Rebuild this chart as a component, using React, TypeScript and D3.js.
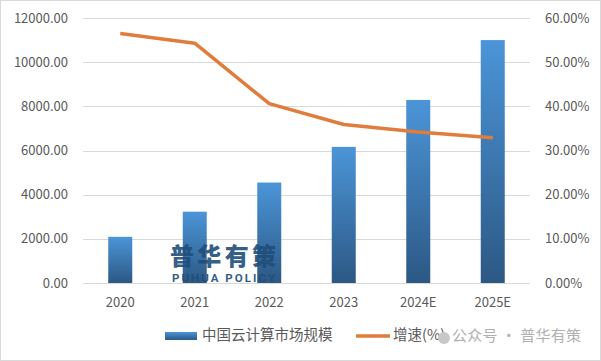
import React, { useEffect, useRef } from 'react'
import * as d3 from 'd3'

// chart data
const years = ['2020', '2021', '2022', '2023', '2024E', '2025E']
const marketSize = [2091, 3229, 4550, 6165, 8290, 11000]
const growthRate = [0.565, 0.543, 0.406, 0.359, 0.342, 0.329]
const leftTicks = [0, 2000, 4000, 6000, 8000, 10000, 12000]
const rightTicks = [0, 0.1, 0.2, 0.3, 0.4, 0.5, 0.6]
const barLabel = '中国云计算市场规模'
const lineLabel = '增速(%)'

const App = () => {
    const svgRef = useRef<SVGSVGElement>(null)

    useEffect(() => {
        const w = 601
        const h = 361
        const left = 83, right = 530, top = 18, bottom = 283
        const font = '"Noto Sans CJK SC", "Noto Sans", sans-serif'

        const svg = d3.select(svgRef.current)
            .attr('width', w)
            .attr('height', h)
            .style('background', '#fff')
        svg.selectAll('*').remove()

        // outer frame
        svg.append('rect')
            .attr('x', 0.5).attr('y', 0.5)
            .attr('width', w - 1).attr('height', h - 1)
            .attr('fill', 'none').attr('stroke', '#d9d9d9')

        const x = d3.scaleBand().domain(years).range([left, right])
        const yLeft = d3.scaleLinear().domain([0, 12000]).range([bottom, top])
        const yRight = d3.scaleLinear().domain([0, 0.6]).range([bottom, top])

        // gradient for the bars
        const grad = svg.append('defs').append('linearGradient')
            .attr('id', 'barGrad')
            .attr('x1', 0).attr('y1', 0).attr('x2', 0).attr('y2', 1)
        grad.append('stop').attr('offset', '0%').attr('stop-color', '#4b95d8')
        grad.append('stop').attr('offset', '100%').attr('stop-color', '#2c5884')

        // gridlines
        svg.append('g')
            .selectAll('line')
            .data(leftTicks)
            .join('line')
            .attr('x1', left).attr('x2', right)
            .attr('y1', d => Math.round(yLeft(d)) + 0.5)
            .attr('y2', d => Math.round(yLeft(d)) + 0.5)
            .attr('stroke', '#d9d9d9')

        // left axis labels
        svg.append('g')
            .selectAll('text')
            .data(leftTicks)
            .join('text')
            .attr('x', 68)
            .attr('y', d => yLeft(d))
            .attr('dy', '0.35em')
            .attr('text-anchor', 'end')
            .attr('font-family', font)
            .attr('font-size', 13)
            .attr('fill', '#595959')
            .text(d => d3.format('.2f')(d))

        // right axis labels
        svg.append('g')
            .selectAll('text')
            .data(rightTicks)
            .join('text')
            .attr('x', 545)
            .attr('y', d => yRight(d))
            .attr('dy', '0.35em')
            .attr('font-family', font)
            .attr('font-size', 13)
            .attr('fill', '#595959')
            .text(d => d3.format('.2%')(d))

        // x labels
        svg.append('g')
            .selectAll('text')
            .data(years)
            .join('text')
            .attr('x', d => x(d)! + x.bandwidth() / 2)
            .attr('y', 302)
            .attr('dy', '0.35em')
            .attr('text-anchor', 'middle')
            .attr('font-family', font)
            .attr('font-size', 13)
            .attr('fill', '#595959')
            .text(d => d)

        // bars
        const bw = 24
        svg.append('g')
            .selectAll('rect')
            .data(marketSize)
            .join('rect')
            .attr('x', (d, i) => x(years[i])! + x.bandwidth() / 2 - bw / 2)
            .attr('y', d => yLeft(d))
            .attr('width', bw)
            .attr('height', d => bottom - yLeft(d))
            .attr('fill', 'url(#barGrad)')

        // logo watermark
        svg.append('text')
            .attr('x', 170).attr('y', 265)
            .attr('font-family', font)
            .attr('font-size', 24)
            .attr('font-weight', 900)
            .attr('fill', '#1f4e79')
            .attr('opacity', 0.9)
            .attr('textLength', 106)
            .text('普华有策')
        svg.append('text')
            .attr('x', 172).attr('y', 282)
            .attr('font-family', 'Roboto, sans-serif')
            .attr('font-size', 11.5)
            .attr('font-weight', 700)
            .attr('fill', '#1f4e79')
            .attr('opacity', 0.9)
            .attr('textLength', 103)
            .text('PUHUA POLICY')

        // growth line
        const line = d3.line<number>()
            .x((d, i) => x(years[i])! + x.bandwidth() / 2)
            .y(d => yRight(d))
            .curve(d3.curveLinear)
        svg.append('path')
            .datum(growthRate)
            .attr('d', line)
            .attr('fill', 'none')
            .attr('stroke', '#e07d3c')
            .attr('stroke-width', 3.5)
            .attr('stroke-linejoin', 'round')

        // legend
        svg.append('rect')
            .attr('x', 165).attr('y', 332)
            .attr('width', 32).attr('height', 8)
            .attr('fill', 'url(#barGrad)')
        svg.append('text')
            .attr('x', 202).attr('y', 335)
            .attr('dy', '0.35em')
            .attr('font-family', font)
            .attr('font-size', 14.5)
            .attr('fill', '#595959')
            .text(barLabel)
        svg.append('line')
            .attr('x1', 356).attr('x2', 390)
            .attr('y1', 336).attr('y2', 336)
            .attr('stroke', '#e07d3c')
            .attr('stroke-width', 3.5)
        svg.append('text')
            .attr('x', 393).attr('y', 335)
            .attr('dy', '0.35em')
            .attr('font-family', font)
            .attr('font-size', 14.5)
            .attr('fill', '#595959')
            .text(lineLabel)

        // account watermark
        svg.append('circle')
            .attr('cx', 444).attr('cy', 338).attr('r', 6)
            .attr('fill', '#c8c8c8')
        svg.append('text')
            .attr('x', 452).attr('y', 336)
            .attr('dy', '0.35em')
            .attr('font-family', font)
            .attr('font-size', 15)
            .attr('fill', '#b0b0b0')
            .attr('textLength', 129)
            .text('公众号 · 普华有策')
    }, [])

    return (
        <div style={{ position: 'absolute', left: 0, top: 0 }}>
            <svg ref={svgRef}></svg>
        </div>
    )
}

export default App
